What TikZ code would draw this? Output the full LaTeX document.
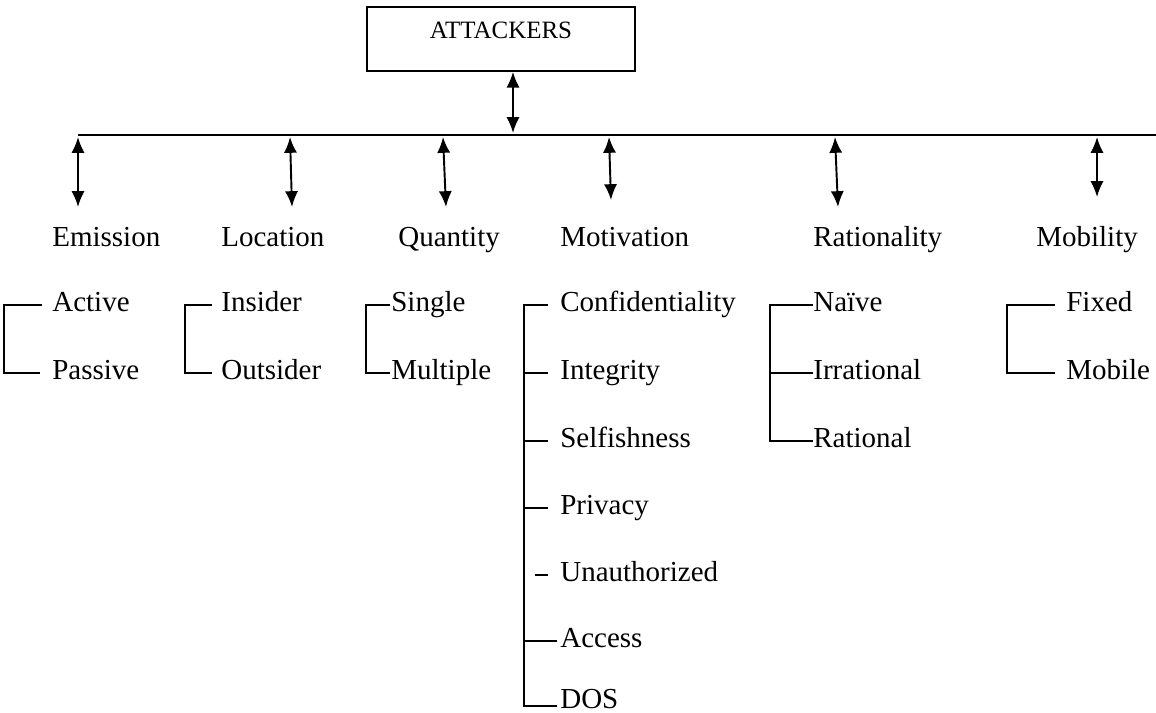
\documentclass[tikz,border=0pt]{standalone}
\usepackage{fontspec}
\setmainfont{Liberation Serif}
\usetikzlibrary{arrows.meta,calc}

\begin{document}
\begin{tikzpicture}[x=0.02cm,y=-0.02cm,
  item/.style={anchor=west,inner sep=0pt,text height=0.7em,text depth=0pt,yshift=-1.7pt,
    font=\fontsize{16.5}{18}\selectfont},
  twoway/.style={{Latex[length=9pt,width=7.5pt]}-{Latex[length=9pt,width=7.5pt]},line width=1.1pt},
  tree/.style={line width=0.8pt}]
\useasboundingbox (0,0) rectangle (1156,713);
% Draw the top box
        \node[draw,line width=0.9pt,minimum width=5.36cm,minimum height=1.28cm,
          text height=9.4pt,text depth=10pt,font=\fontsize{14.2}{16}\selectfont]
          (attackers) at (501,39) {ATTACKERS};
        \coordinate (hub) at (513,133);
        \draw[twoway] (attackers.south -| hub) -- (hub);
        \coordinate (busL) at (78,135);
        \coordinate (busR) at (1156,135);
        \draw[line width=0.9pt] (busL) -- (busR);

% Draw the categories
        \node[item] (emission) at (52,237) {Emission};
        \node[item] (location) at (221,237) {Location};
        \node[item] (quantity) at (398,237) {Quantity};
        \node[item] (motivation) at (560,237) {Motivation};
        \node[item] (rationality) at (813,237) {Rationality};
        \node[item] (mobility) at (1036,237) {Mobility};
        \foreach \nm/\xa/\xb/\yb in {emission/78/78/207,location/290/292/207,
            quantity/443/446/207,motivation/609/611/200,
            rationality/835/838/207,mobility/1097/1097/197}{
          \coordinate (\nm-top) at (\xa,137);
          \coordinate (\nm-end) at (\xb,\yb);
          \draw[twoway] (\nm-top) -- (\nm-end);
        }

% Draw the items
        \node[item] (active) at (52,302) {Active};
        \node[item] (passive) at (52,370) {Passive};
        \node[item] (insider) at (221,302) {Insider};
        \node[item] (outsider) at (221,370) {Outsider};
        \node[item] (single) at (391,302) {Single};
        \node[item] (multiple) at (391,370) {Multiple};
        \node[item] (confidentiality) at (560,302) {Confidentiality};
        \node[item] (integrity) at (560,370) {Integrity};
        \node[item] (selfishness) at (560,438) {Selfishness};
        \node[item] (privacy) at (560,505) {Privacy};
        \node[item] (unauthorized) at (560,572) {Unauthorized};
        \node[item] (access) at (560,638) {Access};
        \node[item] (dos) at (560,699) {DOS};
        \node[item] (naive) at (813,302) {Naïve};
        \node[item] (irrational) at (813,370) {Irrational};
        \node[item] (rational) at (813,438) {Rational};
        \node[item] (fixed) at (1066,302) {Fixed};
        \node[item] (mobile) at (1066,370) {Mobile};

% Draw the brackets
        \draw[tree] (active.west) ++(-10,0) -- ++(-38,0) |- ($(passive.west)+(-12,0)$);
        \draw[tree] (insider.west) ++(-9,0) -- ++(-27,0) |- ($(outsider.west)+(-9,0)$);
        \draw[tree] (single.west) ++(-1,0) -- ++(-24,0) |- ($(multiple.west)+(-1,0)$);
        \draw[tree] (confidentiality.west) ++(-12,0) -- ++(-24,0) |- ($(dos.west)+(-3,4)$);
        \foreach \n in {integrity,selfishness,privacy}
          \draw[tree] (\n.west) ++(-12,0) -- ++(-24,0);
        \draw[tree] (unauthorized.west) ++(-12,0) -- ++(-13,0);
        \draw[tree] (access.west) ++(-3,0) -- ++(-33,0);
        \draw[tree] (naive.west) -- ++(-43,0) |- (rational.west);
        \draw[tree] (irrational.west) -- ++(-43,0);
        \draw[tree] (fixed.west) ++(-11,0) -- ++(-48,0) |- ($(mobile.west)+(-11,0)$);
      \end{tikzpicture}
\end{document}
